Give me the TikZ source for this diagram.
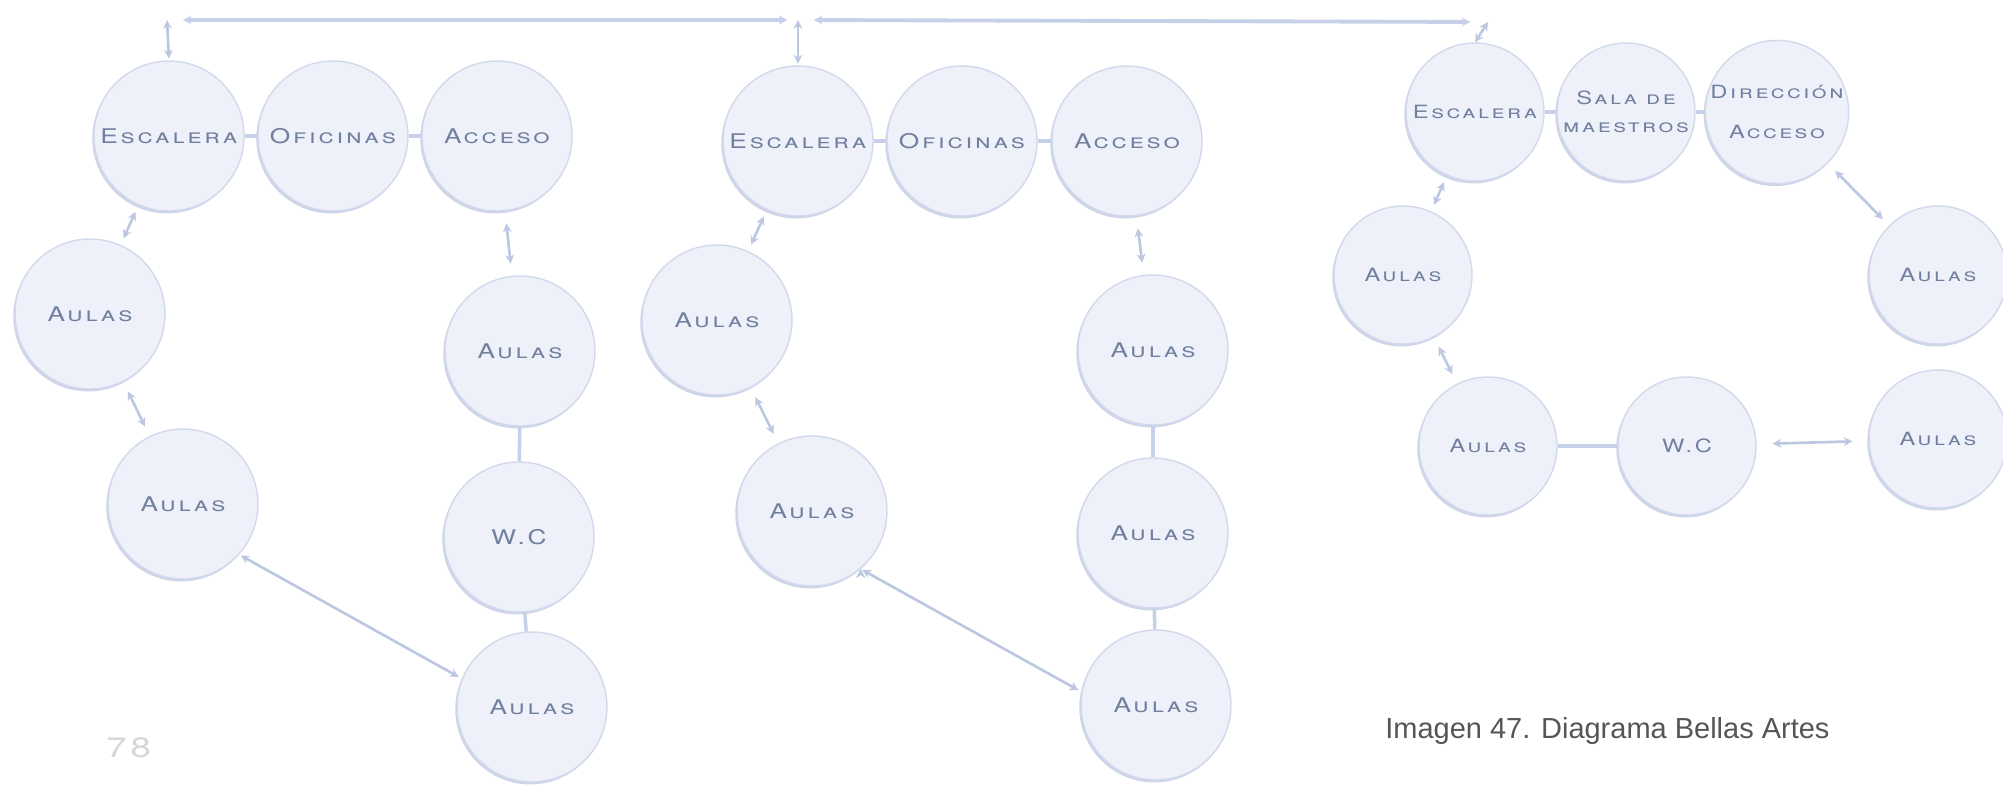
\documentclass[tikz,border=0pt]{standalone}
\usepackage{fontspec}
\setmainfont{TeX Gyre Heros}
\newfontfamily\roomfont[Letters=SmallCaps,FakeStretch=1.3,LetterSpace=14]{TeX Gyre Heros}
\newfontfamily\captionfont{Liberation Sans}
\usepackage{xcolor}
\usetikzlibrary{
    arrows.meta,
    shadows,
    positioning
}
\definecolor{roomfill}{HTML}{EEF1FA}
\definecolor{roomline}{HTML}{D2D9EC}
\definecolor{roomshadow}{HTML}{C2CBE3}
\definecolor{roomtext}{HTML}{72809F}
\definecolor{linkcol}{HTML}{C6D0E8}
\definecolor{flowcol}{HTML}{BCC7E2}
\definecolor{pagecol}{HTML}{D6D6D6}
\definecolor{captioncol}{HTML}{555555}

\begin{document}
\begin{tikzpicture}[x=0.02cm, y=-0.02cm,
    room/.style={circle, minimum size=3cm, inner sep=0pt, align=center,
        fill=roomfill, draw=roomline, line width=0.8pt,
        drop shadow={shadow xshift=-1pt, shadow yshift=-1.4pt, fill=roomshadow, opacity=0.8},
        text=roomtext, font=\roomfont\fontsize{11.5}{14}\selectfont},
    smallroom/.style={room, minimum size=2.76cm, font=\roomfont\fontsize{10.4}{17}\selectfont},
    link/.style={draw=linkcol, line width=2pt},
    flow/.style={draw=flowcol, line width=1.5pt,
        {Stealth[open,length=5pt,width=5pt]}-{Stealth[open,length=5pt,width=5pt]}}]
                        \useasboundingbox (0, 0) rectangle (2003, 787);
                        \begin{scope}[shift={(0, 0)}]
                            \node[room] (esc1) at (169, 136) {Escalera};
                            \node[room] (ofi1) at (333, 136) {Oficinas};
                            \node[room] (acc1) at (497, 136) {Acceso};
                            \node[room] (aula1a) at (90, 314) {Aulas};
                            \node[room] (aula1b) at (183, 504) {Aulas};
                            \node[room] (aula1c) at (520, 351) {Aulas};
                            \node[room] (wc1) at (519, 537) {W.C};
                            \node[room] (aula1d) at (532, 707) {Aulas};
                            \coordinate (top1) at (167, 20);
                        \end{scope}
                        \begin{scope}[shift={(629, 5)}]
                            \node[room] (esc2) at (169, 136) {Escalera};
                            \node[room] (ofi2) at (333, 136) {Oficinas};
                            \node[room] (acc2) at (498, 136) {Acceso};
                            \node[room] (aula2a) at (88, 315) {Aulas};
                            \node[room] (aula2b) at (183, 506) {Aulas};
                            \node[room] (aula2c) at (524, 345) {Aulas};
                            \node[room] (aula2d) at (524, 528) {Aulas};
                            \node[room] (aula2e) at (527, 700) {Aulas};
                            \coordinate (top2) at (169, 15);
                        \end{scope}
                        \begin{scope}[shift={(0, 0)}]
                            \node[smallroom] (esc3) at (1475, 112) {Escalera};
                            \node[smallroom] (sala3) at (1626, 112) {Sala de\\[-1pt]maestros};
                            \node[smallroom] (dir3) at (1777, 112) {Dirección\\[6pt]Acceso};
                            \node[smallroom] (aula3a) at (1403, 275) {Aulas};
                            \node[smallroom] (aula3b) at (1488, 446) {Aulas};
                            \node[smallroom] (wc3) at (1687, 446) {W.C};
                            \node[smallroom] (aula3c) at (1938, 275) {Aulas};
                            \node[smallroom] (aula3d) at (1938, 439) {Aulas};
                            \coordinate (top3) at (1488, 22);
                        \end{scope}
                        \draw[link]
                        (esc1) edge (ofi1)
                        (ofi1) edge (acc1)
                        (aula1c) edge (wc1)
                        (wc1) edge (aula1d)
                        (esc2) edge (ofi2)
                        (ofi2) edge (acc2)
                        (aula2c) edge (aula2d)
                        (aula2d) edge (aula2e)
                        (esc3) edge (sala3)
                        (sala3) edge (dir3)
                        (aula3b) edge (wc3);
                        \draw[flow]
                        (esc1.north) edge[shorten <=1pt] (top1)
                        (top1) edge[shorten <=9pt, shorten >=6pt, draw=linkcol, line width=2.2pt] (top2)
                        (esc2.north) edge[shorten <=1pt] (top2)
                        (top2) edge[shorten <=9pt, shorten >=10pt, draw=linkcol, line width=2.2pt] (top3)
                        (esc3.north) edge (top3)
                        (esc1) edge[shorten <=4pt, shorten >=4pt] (aula1a)
                        (acc1) edge[shorten <=7pt, shorten >=7pt] (aula1c)
                        (aula1a) edge[shorten <=6pt, shorten >=6pt] (aula1b)
                        (aula1b.-42) edge[shorten <=1pt, shorten >=2pt] (aula1d.158)
                        (esc2) edge[shorten <=4pt, shorten >=4pt] (aula2a)
                        (acc2) edge[shorten <=7pt, shorten >=7pt] (aula2c)
                        (aula2a) edge[shorten <=6pt, shorten >=6pt] (aula2b)
                        (aula2b.-50) edge[shorten <=1pt, shorten >=2pt] (aula2e.170)
                        (esc3) edge[shorten <=4pt, shorten >=4pt] (aula3a)
                        (aula3a) edge[shorten <=6pt, shorten >=6pt] (aula3b)
                        (dir3) edge[shorten <=6pt, shorten >=5pt] (aula3c)
                        (wc3) edge[shorten <=9pt, shorten >=9pt] (aula3d);
                        \node[anchor=base west, text=pagecol, inner sep=0pt,
                            font=\roomfont\fontsize{16}{18}\selectfont] (page) at (106, 757) {78};
                        \node[anchor=base west, text=captioncol, inner sep=0pt,
                            font=\captionfont\fontsize{16.5}{19}\selectfont] (caption) at (1385, 738) {Imagen 47. Diagrama Bellas Artes};
                    \end{tikzpicture}
\end{document}
